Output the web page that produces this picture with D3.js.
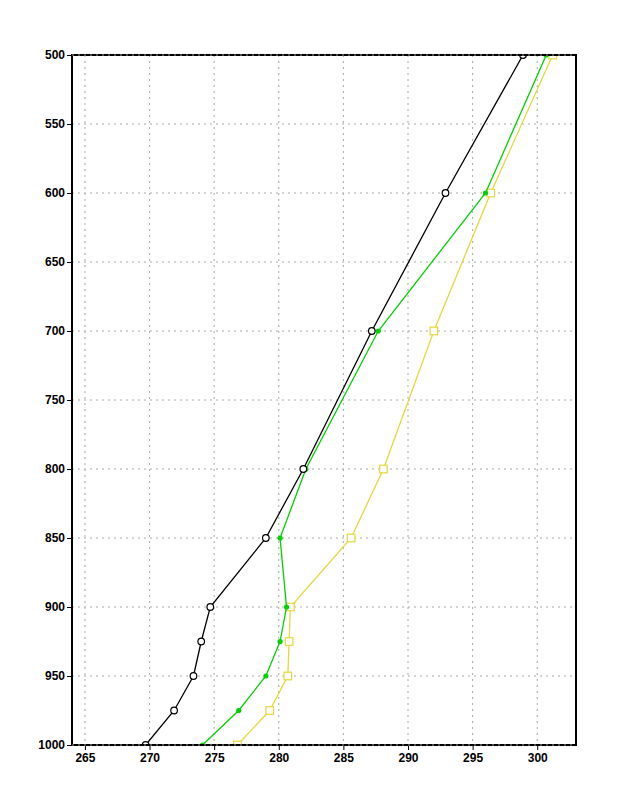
<!DOCTYPE html>
<html>
<head>
<meta charset="utf-8">
<script src="https://cdn.jsdelivr.net/npm/d3@7"></script>
<style>
  body { margin: 0; background: #fff; }
  text { font-family: "Liberation Sans", Arial, sans-serif; font-weight: bold; }
</style>
</head>
<body>
<div id="chart"></div>
<script>
// pressure levels (hPa)
const levels = [500, 600, 700, 800, 850, 900, 925, 950, 975, 1000];

// temperature profiles (K)
const blackSeries  = [298.9, 292.9, 287.2, 281.9, 279.0, 274.7, 274.0, 273.4, 271.9, 269.7];
const greenSeries  = [300.7, 296.0, 287.7, 282.1, 280.1, 280.6, 280.1, 279.0, 276.9, 274.1];
const yellowSeries = [301.2, 296.4, 292.0, 288.1, 285.6, 280.9, 280.8, 280.7, 279.3, 276.8];

const xTicks = [265, 270, 275, 280, 285, 290, 295, 300];
const yTicks = [500, 550, 600, 650, 700, 750, 800, 850, 900, 950, 1000];

// set the dimensions and margins of the graph
const margin = {top: 55, right: 42, bottom: 55, left: 72},
    width = 618 - margin.left - margin.right,
    height = 800 - margin.top - margin.bottom;

const svg = d3.select("#chart")
  .append("svg")
    .attr("width", 618)
    .attr("height", 800)
  .append("g")
    .attr("transform", `translate(${margin.left},${margin.top})`);

svg.append("clipPath").attr("id", "plotclip")
  .append("rect").attr("width", width).attr("height", height);

const x = d3.scaleLinear().domain([264, 303]).range([0, width]);
const y = d3.scaleLinear().domain([500, 1000]).range([0, height]);

// dotted grid
svg.append("g").selectAll("line").data(xTicks).join("line")
  .attr("x1", d => x(d)).attr("x2", d => x(d))
  .attr("y1", 0).attr("y2", height)
  .attr("stroke", "#aaa").attr("stroke-dasharray", "2,4");
svg.append("g").selectAll("line").data(yTicks.slice(1, -1)).join("line")
  .attr("x1", 0).attr("x2", width)
  .attr("y1", d => y(d)).attr("y2", d => y(d))
  .attr("stroke", "#aaa").attr("stroke-dasharray", "2,4");

// axes
const xAxis = svg.append("g")
  .attr("transform", `translate(0,${height})`)
  .call(d3.axisBottom(x).tickValues(xTicks).tickSize(5).tickPadding(3).tickFormat(d3.format("d")));
const yAxis = svg.append("g")
  .call(d3.axisLeft(y).tickValues(yTicks).tickSize(5).tickPadding(2).tickFormat(d3.format("d")));
[xAxis, yAxis].forEach(a => {
  a.select(".domain").remove();
  a.selectAll("text").attr("fill", "#000").style("font-size", "12px");
  a.selectAll("line").attr("stroke", "#000");
});

const line = d3.line()
  .x(d => x(d[0]))
  .y(d => y(d[1]));

const plot = svg.append("g").attr("clip-path", "url(#plotclip)");

function draw(values, color, shape) {
  const pts = values.map((v, i) => [v, levels[i]]);
  plot.append("path")
    .datum(pts)
    .attr("d", line)
    .attr("fill", "none")
    .attr("stroke", color)
    .attr("stroke-width", 1.3);
  const g = plot.append("g");
  if (shape === "circle") {
    g.selectAll("circle").data(pts).join("circle")
      .attr("cx", d => x(d[0])).attr("cy", d => y(d[1])).attr("r", 3.3)
      .attr("fill", "#fff").attr("stroke", color).attr("stroke-width", 1.2);
  } else if (shape === "dot") {
    g.selectAll("circle").data(pts).join("circle")
      .attr("cx", d => x(d[0])).attr("cy", d => y(d[1])).attr("r", 2.6)
      .attr("fill", color);
  } else {
    g.selectAll("rect").data(pts).join("rect")
      .attr("x", d => x(d[0]) - 3.8).attr("y", d => y(d[1]) - 3.8)
      .attr("width", 7.6).attr("height", 7.6)
      .attr("fill", "#fff").attr("stroke", color).attr("stroke-width", 1.2);
  }
}

draw(yellowSeries, "#e6d83a", "square");
draw(greenSeries, "#00d400", "dot");
draw(blackSeries, "#000", "circle");

// frame, with the dotted grid running along top and bottom edges
svg.append("rect")
  .attr("width", width).attr("height", height)
  .attr("fill", "none").attr("stroke", "#000").attr("stroke-width", 2);
svg.append("g").selectAll("line").data([500, 1000]).join("line")
  .attr("x1", 0).attr("x2", width)
  .attr("y1", d => y(d)).attr("y2", d => y(d))
  .attr("stroke", "#999").attr("stroke-width", 1).attr("stroke-dasharray", "2,4");
</script>
</body>
</html>
